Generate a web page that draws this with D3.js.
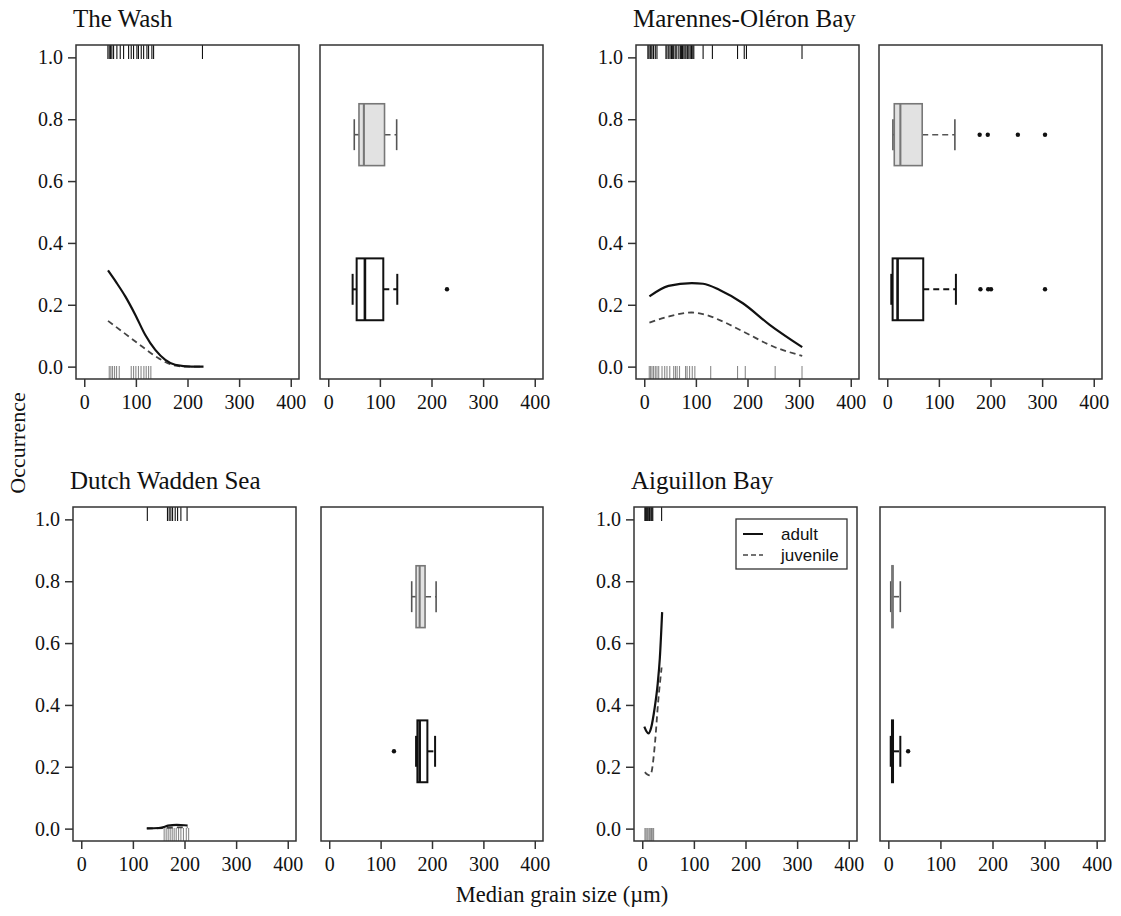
<!DOCTYPE html>
<html><head><meta charset="utf-8">
<script src="https://cdn.jsdelivr.net/npm/d3@7"></script>
<style>body{margin:0;background:#fff}</style>
</head><body>
<svg id="c" width="1121" height="916"></svg>
<script>
// ---------- data ----------
const xTicks = [0, 100, 200, 300, 400];
const yTicks = [0, 0.2, 0.4, 0.6, 0.8, 1.0];
const siteNames = ["The Wash", "Marennes-Oléron Bay", "Dutch Wadden Sea", "Aiguillon Bay"];
const seriesNames = ["adult", "juvenile"];
const xLabel = "Median grain size (µm)";
const yLabel = "Occurrence";

// rug: grain sizes of presence (y=1) and absence (y=0) samples
const washPresence = [45.8,48.4,51,53.5,56.8,63.2,69.7,76.2,85.9,91,95.5,102,105,110.4,115,121.4,124.6,131,134.3,229];
const washAbsence  = [48.4,51.6,54.8,58.7,62.6,67.8,91,95.5,100,105,110,115.5,120,124.6,129];
const marPresence  = [7,9,11.6,13,15,18,21.4,24.6,42,44,47.4,50,52.7,55,57,60,63,67,70,72,74,76.7,79,81,84,86.4,89,91.6,94,96,114,132,180.7,193.7,198,305.6];
const marAbsence   = [9.7,12.3,15,18,21.4,24.6,28,34.4,39.6,44,49.4,57,60.5,63.7,68.3,80,83,87.8,93,98,128.7,180.7,195.7,253.6,305.6];
const dutchPresence = [128,167,170.3,173.6,176.9,182,186.6,193,205];
const dutchAbsence  = [160.6,164.5,168.4,172.3,176.2,180,184,188.5,193,198,203.5,208];
const aigPresence  = [5.2,6,7.8,9,10.5,12.6,14,15.2,17.5,19,20.4,37.5];
const aigAbsence   = [5.2,7,9.2,11,13.5,15.5,18,20.4,22];

// fitted occurrence curves [grain size, occurrence]
const washAdult = [[46,0.311],[63,0.27],[79.5,0.227],[99,0.167],[118,0.103],[137.6,0.054],[157,0.022],[176,0.006],[208,0.0],[231,0.0]];
const washJuv   = [[46,0.148],[79.5,0.106],[112,0.065],[144,0.027],[170,0.006],[196,0.0],[231,0.0]];
const marAdult  = [[10,0.227],[47,0.261],[92,0.27],[114,0.268],[146,0.248],[191,0.205],[243,0.135],[306,0.063]];
const marJuv    = [[10,0.142],[47,0.162],[92,0.175],[120,0.167],[152,0.146],[198,0.108],[250,0.065],[306,0.035]];
const dutchAdult = [[127,0.001],[150,0.002],[162,0.006],[168,0.01],[185,0.012],[200,0.011],[206,0.01]];
const dutchJuv   = [[127,0.0005],[160,0.002],[185,0.004],[206,0.004]];
const aigAdult  = [[4,0.33],[8,0.315],[12,0.308],[17,0.325],[24,0.39],[30,0.47],[34,0.55],[38.5,0.70]];
const aigJuv    = [[5,0.183],[10,0.175],[15,0.172],[18,0.183],[24.5,0.274],[31,0.414],[37.5,0.521]];

// boxplots [lower whisker, q1, median, q3, upper whisker]
const washAdultBox = [47.2,55,71,106.6,133.7];   const washAdultOut = [230];
const washJuvBox   = [50.4,59.5,69,109,132.5];   const washJuvOut = [];
const marAdultBox  = [7.8,10.4,20,69.7,133];     const marAdultOut = [180.5,195.5,201,305.6];
const marJuvBox    = [11,13.6,25.4,67.7,131];    const marJuvOut = [179,194.7,253,305.6];
const dutchAdultBox = [169,171.6,176,191,206];   const dutchAdultOut = [126];
const dutchJuvBox   = [160.5,169,176,186.5,208]; const dutchJuvOut = [];
const aigAdultBox  = [4.6,7,8,9,23];             const aigAdultOut = [38];
const aigJuvBox    = [4.6,7,8,9,23];             const aigJuvOut = [];

// ---------- layout ----------
const sites = [
  {name: siteNames[0], pres: washPresence, abs: washAbsence, adult: washAdult, juv: washJuv,
   aBox: washAdultBox, aOut: washAdultOut, jBox: washJuvBox, jOut: washJuvOut,
   curve: {x0:76, x1:299, y0:45, y1:379}, box: {x0:320, x1:543, y0:45, y1:379}, legend:false},
  {name: siteNames[1], pres: marPresence, abs: marAbsence, adult: marAdult, juv: marJuv,
   aBox: marAdultBox, aOut: marAdultOut, jBox: marJuvBox, jOut: marJuvOut,
   curve: {x0:636, x1:859, y0:45, y1:379}, box: {x0:879, x1:1102, y0:45, y1:379}, legend:false},
  {name: siteNames[2], pres: dutchPresence, abs: dutchAbsence, adult: dutchAdult, juv: dutchJuv,
   aBox: dutchAdultBox, aOut: dutchAdultOut, jBox: dutchJuvBox, jOut: dutchJuvOut,
   curve: {x0:73, x1:296, y0:507, y1:841}, box: {x0:321, x1:543, y0:507, y1:841}, legend:false},
  {name: siteNames[3], pres: aigPresence, abs: aigAbsence, adult: aigAdult, juv: aigJuv,
   aBox: aigAdultBox, aOut: aigAdultOut, jBox: aigJuvBox, jOut: aigJuvOut,
   curve: {x0:634, x1:857, y0:507, y1:841}, box: {x0:880, x1:1105, y0:507, y1:841}, legend:true}
];

const svg = d3.select("#c");
const serif = "'Liberation Serif','Times New Roman',serif";
const sans = "'Liberation Sans',Arial,sans-serif";

function frame(g, r) {
  g.append("rect").attr("x", r.x0).attr("y", r.y0)
    .attr("width", r.x1 - r.x0).attr("height", r.y1 - r.y0)
    .attr("fill", "none").attr("stroke", "#333").attr("stroke-width", 1.5);
}
function xAxis(g, x, r) {
  const ax = g.append("g").attr("transform", `translate(0,${r.y1})`)
    .call(d3.axisBottom(x).tickValues(xTicks).tickSize(8).tickPadding(8).tickFormat(d3.format("d")));
  ax.select(".domain").remove();
  ax.selectAll(".tick line").attr("stroke", "#333").attr("stroke-width", 1.5);
  ax.selectAll(".tick text").attr("font-family", serif).attr("font-size", 20).attr("fill", "#111");
}

sites.forEach(s => {
  const g = svg.append("g");
  const c = s.curve;
  const x = d3.scaleLinear().domain([-16, 416]).range([c.x0, c.x1]);
  const y = d3.scaleLinear().domain([-0.04, 1.04]).range([c.y1, c.y0]);

  // title
  g.append("text").attr("x", c.x0 - 3).attr("y", c.y0 - 18)
    .attr("font-family", serif).attr("font-size", 25).attr("fill", "#111").text(s.name);

  // y axis
  const ay = g.append("g").attr("transform", `translate(${c.x0},0)`)
    .call(d3.axisLeft(y).tickValues(yTicks).tickSize(8).tickPadding(5).tickFormat(d3.format(".1f")));
  ay.select(".domain").remove();
  ay.selectAll(".tick line").attr("stroke", "#333").attr("stroke-width", 1.5);
  ay.selectAll(".tick text").attr("font-family", serif).attr("font-size", 20).attr("fill", "#111");
  xAxis(g, x, c);

  // rugs
  g.selectAll(null).data(s.pres).join("line")
    .attr("x1", d => x(d)).attr("x2", d => x(d))
    .attr("y1", c.y0).attr("y2", c.y0 + 14)
    .attr("stroke", "#111").attr("stroke-width", 1.1);
  g.selectAll(null).data(s.abs).join("line")
    .attr("x1", d => x(d)).attr("x2", d => x(d))
    .attr("y1", c.y1).attr("y2", c.y1 - 13)
    .attr("stroke", "#8a8a8a").attr("stroke-width", 1.1);

  // curves
  const line = d3.line().x(d => x(d[0])).y(d => y(d[1])).curve(d3.curveMonotoneX);
  g.append("path").attr("d", line(s.juv)).attr("fill", "none")
    .attr("stroke", "#444").attr("stroke-width", 1.8).attr("stroke-dasharray", "6,4");
  g.append("path").attr("d", line(s.adult)).attr("fill", "none")
    .attr("stroke", "#111").attr("stroke-width", 2.2);

  frame(g, c);

  if (s.legend) {
    const lx = 736, ly = 519;
    g.append("rect").attr("x", lx).attr("y", ly).attr("width", 111).attr("height", 50)
      .attr("fill", "#fff").attr("stroke", "#333").attr("stroke-width", 1.3);
    g.append("line").attr("x1", lx + 7).attr("x2", lx + 27).attr("y1", ly + 15).attr("y2", ly + 15)
      .attr("stroke", "#111").attr("stroke-width", 2);
    g.append("line").attr("x1", lx + 7).attr("x2", lx + 27).attr("y1", ly + 36).attr("y2", ly + 36)
      .attr("stroke", "#444").attr("stroke-width", 1.6).attr("stroke-dasharray", "5,3");
    g.append("text").attr("x", lx + 45).attr("y", ly + 21).attr("font-family", sans)
      .attr("font-size", 17).attr("fill", "#111").text(seriesNames[0]);
    g.append("text").attr("x", lx + 45).attr("y", ly + 42).attr("font-family", sans)
      .attr("font-size", 17).attr("fill", "#111").text(seriesNames[1]);
  }

  // ---- boxplot panel ----
  const b = s.box;
  const bx = d3.scaleLinear().domain([-16, 416]).range([b.x0, b.x1]);
  const by = d3.scaleLinear().domain([0.42, 2.58]).range([b.y1, b.y0]);
  xAxis(g, bx, b);

  function drawBox(v, out, pos, st) {
    const yc = by(pos), h = by(pos - 0.2) - by(pos + 0.2), hs = by(pos - 0.1) - by(pos + 0.1);
    [[v[0], v[1]], [v[3], v[4]]].forEach(w => {
      g.append("line").attr("x1", bx(w[0])).attr("x2", bx(w[1])).attr("y1", yc).attr("y2", yc)
        .attr("stroke", st.wh).attr("stroke-width", st.lw).attr("stroke-dasharray", "6,4");
    });
    [v[0], v[4]].forEach(e => {
      g.append("line").attr("x1", bx(e)).attr("x2", bx(e)).attr("y1", yc - hs / 2).attr("y2", yc + hs / 2)
        .attr("stroke", st.wh).attr("stroke-width", st.lw);
    });
    g.append("rect").attr("x", bx(v[1])).attr("y", yc - h / 2)
      .attr("width", bx(v[3]) - bx(v[1])).attr("height", h)
      .attr("fill", st.fill).attr("stroke", st.stroke).attr("stroke-width", st.lw);
    g.append("line").attr("x1", bx(v[2])).attr("x2", bx(v[2])).attr("y1", yc - h / 2).attr("y2", yc + h / 2)
      .attr("stroke", st.stroke).attr("stroke-width", st.lw * 1.3);
    g.selectAll(null).data(out).join("circle")
      .attr("cx", d => bx(d)).attr("cy", yc).attr("r", 2.2).attr("fill", "#111");
  }
  drawBox(s.aBox, s.aOut, 1, {fill: "#fff", stroke: "#111", wh: "#111", lw: 2});
  drawBox(s.jBox, s.jOut, 2, {fill: "#e2e2e2", stroke: "#777", wh: "#555", lw: 1.6});
  frame(g, b);
});

// global axis titles
svg.append("text").attr("x", 562).attr("y", 902).attr("text-anchor", "middle")
  .attr("font-family", serif).attr("font-size", 22.5).attr("fill", "#111").text(xLabel);
svg.append("text").attr("transform", "translate(25,443) rotate(-90)").attr("text-anchor", "middle")
  .attr("font-family", serif).attr("font-size", 22).attr("fill", "#111").text(yLabel);
</script>
</body></html>
